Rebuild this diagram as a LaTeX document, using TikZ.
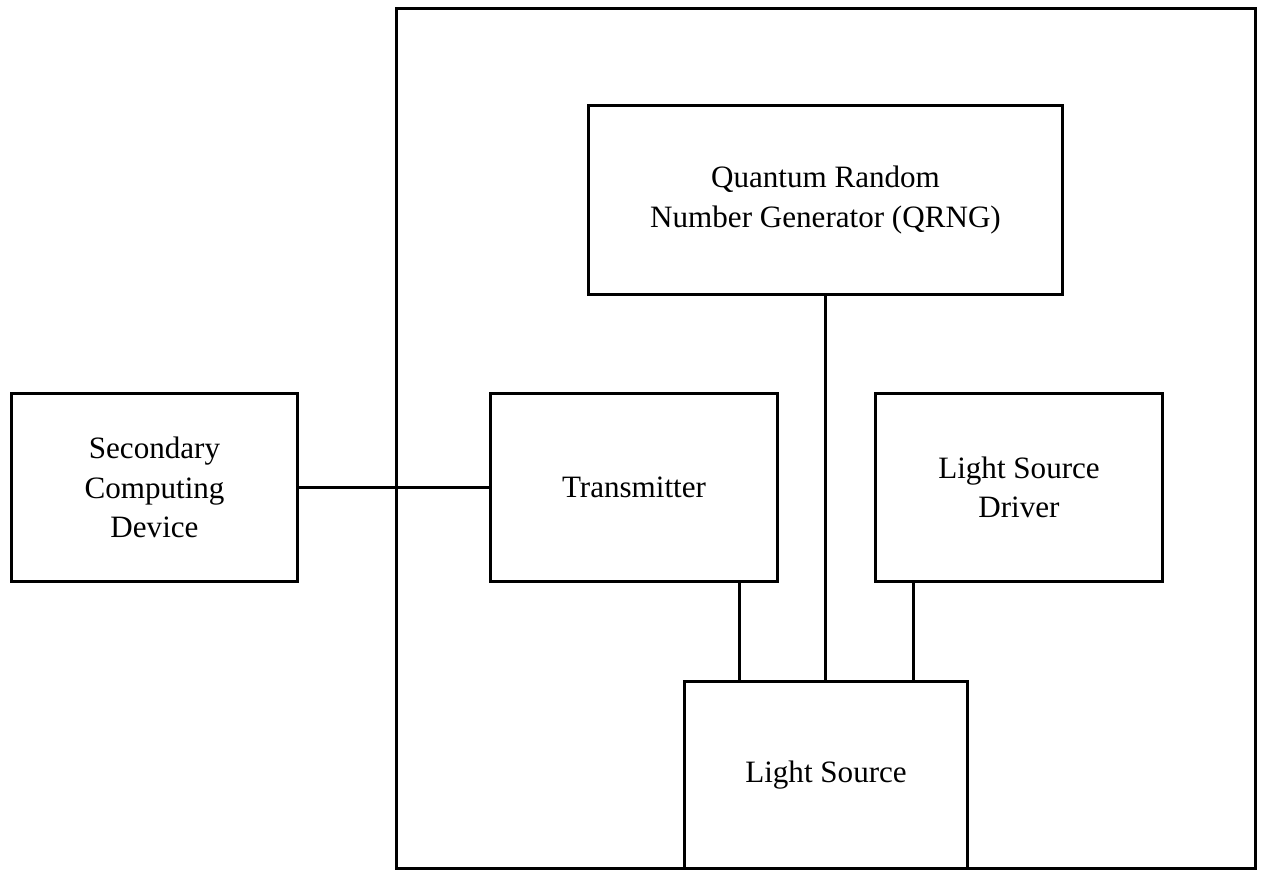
\documentclass[tikz,border=0pt]{standalone}
\usepackage{fontspec}
\setmainfont{Liberation Serif}
\usetikzlibrary{positioning}
\newcommand{\boxw}{5.74cm}
\newcommand{\boxh}{3.78cm}

\begin{document}
\begin{tikzpicture}[x=0.02cm, y=-0.02cm, line width=0.06cm,
        block/.style={draw, rectangle, align=center, minimum width=\boxw, minimum height=\boxh,
                      font=\fontsize{17.7}{22.6}\selectfont}]
        \useasboundingbox (0,0) rectangle (1261,871);
        %\draw[red] (0,0) rectangle (1261,871);
        \node[draw, rectangle, minimum width=17.2cm, minimum height=17.22cm] (device) at (826,438.5) {};
        \node[block, minimum width=9.5cm, minimum height=3.8cm] (qrng) at (825.5,200) {Quantum Random\\Number Generator (QRNG)};
        \node[block] (sec) at (154.5,487.5) {Secondary\\Computing\\Device};
        \node[block] (trans) at (634,487.5) {Transmitter};
        \node[block] (driver) at (1019,487.5) {Light Source\\Driver};
        \node[block, minimum width=5.68cm, minimum height=3.76cm] (light) at (826,775) {Light Source};
        \draw (sec.east) -- (trans.west);
        \draw ([xshift=2.12cm]trans.south) -- ([xshift=2.12cm]trans.south |- light.north);
        \draw (qrng.south) -- (qrng.south |- light.north);
        \draw ([xshift=-2.12cm]driver.south) -- ([xshift=-2.12cm]driver.south |- light.north);
    \end{tikzpicture}
\end{document}
